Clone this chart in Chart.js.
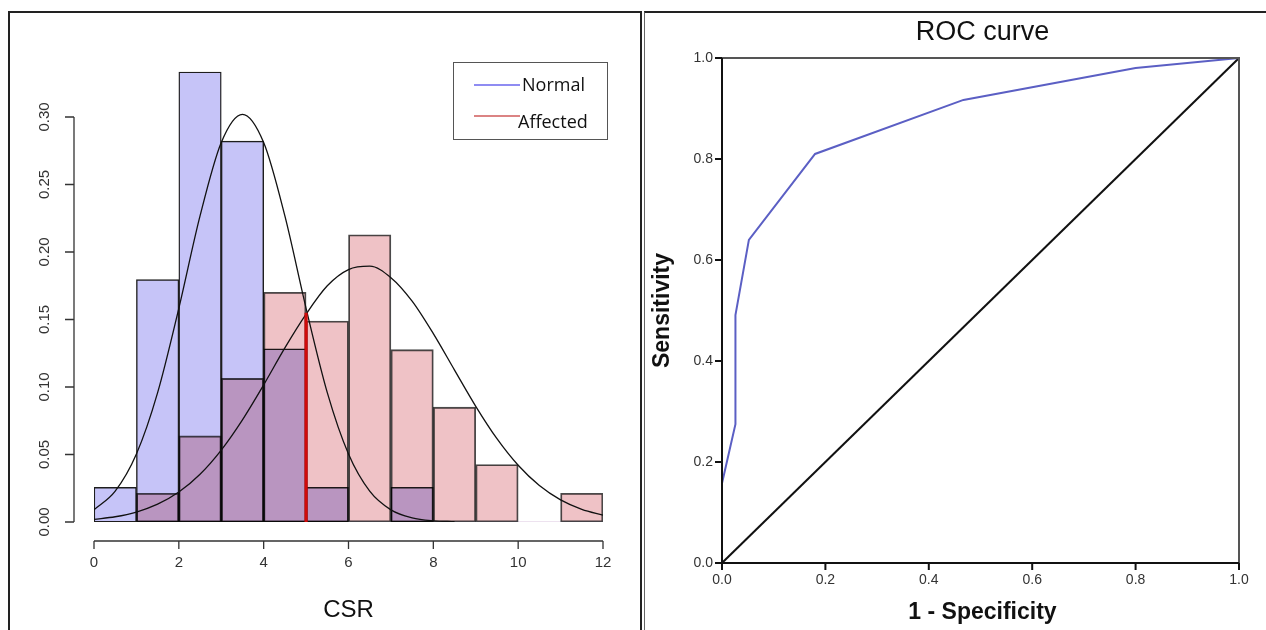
<!DOCTYPE html>
<html>
<head>
<meta charset="utf-8">
<title>CSR histogram and ROC curve</title>
<script src="https://cdn.jsdelivr.net/npm/chart.js@4.4.1/dist/chart.umd.min.js"></script>
<style>
  html, body { margin: 0; padding: 0; background: #fff; }
  body { width: 1266px; height: 630px; position: relative; overflow: hidden; }
  .frame { position: absolute; box-sizing: border-box; }
  #leftFrame { left: 8px; top: 11px; width: 634px; height: 640px;
               border-top: 2px solid #222; border-left: 2px solid #222; border-right: 2px solid #222; }
  #rightFrame { left: 644px; top: 11px; width: 640px; height: 640px;
                border-top: 2px solid #222; border-left: 1.5px solid #666; }
  canvas { position: absolute; }
  #histChart { left: 10px; top: 13px; }
  #rocChart { left: 646px; top: 14px; }
</style>
</head>
<body>
<div class="frame" id="leftFrame"></div>
<div class="frame" id="rightFrame"></div>
<canvas id="histChart" width="628" height="617"></canvas>
<canvas id="rocChart" width="620" height="616"></canvas>
<script>
// ---- Histogram data (density per CSR bin of width 1) ----
const binStarts = [0, 1, 2, 3, 4, 5, 6, 7, 8, 9, 10, 11];
const normalDensity   = [0.0256, 0.1795, 0.3333, 0.2821, 0.1282, 0.0256, 0, 0.0256, 0, 0, 0, 0];
const affectedDensity = [0, 0.0213, 0.0638, 0.1064, 0.1702, 0.1489, 0.2128, 0.1277, 0.0851, 0.0426, 0, 0.0213];

// fitted curves
const curveX = [0, 0.5, 1, 1.5, 2, 2.5, 3, 3.5, 4, 4.5, 5, 5.5, 6, 6.5, 7, 7.5, 8, 8.5, 9, 9.5, 10, 10.5, 11, 11.5, 12];
const normalCurve = [0.0090, 0.0228, 0.0503, 0.0958, 0.1583, 0.2267, 0.2811, 0.3020, 0.2811, 0.2267,
                     0.1583, 0.0958, 0.0503, 0.0228, 0.0090, 0.0031, 0.0009, 0.0002];
const affectedCurve = [0.0020, 0.0039, 0.0074, 0.0132, 0.0222, 0.0354, 0.0533, 0.0757, 0.1016, 0.1290,
                       0.1540, 0.1750, 0.1870, 0.1895, 0.1810, 0.1636, 0.1395, 0.1125, 0.0857, 0.0617,
                       0.0420, 0.0270, 0.0164, 0.0094, 0.0051];
const cutoffCSR = 5;
const cutoffHeight = 0.155;

const densityTicks = [0, 0.05, 0.10, 0.15, 0.20, 0.25, 0.30];
const csrTicks = [0, 2, 4, 6, 8, 10, 12];
const legendLabels = ['Normal', 'Affected'];
const legendColors = ['#6a66ee', '#cf5a5a'];

// ---- ROC data ----
const rocFPR = [0, 0, 0.026, 0.026, 0.052, 0.180, 0.467, 0.800, 1];
const rocTPR = [0, 0.158, 0.275, 0.491, 0.640, 0.810, 0.917, 0.980, 1];
const refFPR = [0, 1];
const refTPR = [0, 1];
const rocTicks = [0, 0.2, 0.4, 0.6, 0.8, 1.0];

const FONT = '"Liberation Sans", Arial, sans-serif';

// Affected bars are blended over the Normal ones (overlap turns purple)
const multiplyBlend = {
    id: 'multiplyBlend',
    beforeDatasetDraw(chart, args) {
        if (chart.data.datasets[args.index].blendMode) {
            chart.ctx.save();
            chart.ctx.globalCompositeOperation = chart.data.datasets[args.index].blendMode;
        }
    },
    afterDatasetDraw(chart, args) {
        if (chart.data.datasets[args.index].blendMode) chart.ctx.restore();
    }
};

// R-style detached axes + boxed legend
const rAxes = {
    id: 'rAxes',
    afterDraw(chart) {
        const { ctx, chartArea, scales: { x, y } } = chart;
        ctx.save();
        ctx.strokeStyle = '#333';
        ctx.lineWidth = 1.3;
        ctx.fillStyle = '#333';

        // y axis
        const ax = chartArea.left - 20;
        ctx.beginPath();
        ctx.moveTo(ax, y.getPixelForValue(densityTicks[0]));
        ctx.lineTo(ax, y.getPixelForValue(densityTicks[densityTicks.length - 1]));
        densityTicks.forEach(v => {
            const py = y.getPixelForValue(v);
            ctx.moveTo(ax, py);
            ctx.lineTo(ax - 9, py);
        });
        ctx.stroke();
        ctx.font = '15px ' + FONT;
        ctx.textAlign = 'center';
        ctx.textBaseline = 'middle';
        densityTicks.forEach(v => {
            ctx.save();
            ctx.translate(ax - 29, y.getPixelForValue(v));
            ctx.rotate(-Math.PI / 2);
            ctx.fillText(v.toFixed(2), 0, 0);
            ctx.restore();
        });

        // x axis
        const ay = chartArea.bottom + 19;
        ctx.beginPath();
        ctx.moveTo(x.getPixelForValue(csrTicks[0]), ay);
        ctx.lineTo(x.getPixelForValue(csrTicks[csrTicks.length - 1]), ay);
        csrTicks.forEach(v => {
            const px = x.getPixelForValue(v);
            ctx.moveTo(px, ay);
            ctx.lineTo(px, ay + 8);
        });
        ctx.stroke();
        csrTicks.forEach(v => ctx.fillText(String(v), x.getPixelForValue(v), ay + 22));

        ctx.fillStyle = '#111';
        ctx.font = '24px ' + FONT;
        ctx.fillText('CSR', (chartArea.left + chartArea.right) / 2, chartArea.bottom + 88);

        // legend box
        const bx = chartArea.right - 150, by = chartArea.top - 1;
        ctx.strokeStyle = '#555';
        ctx.lineWidth = 1;
        ctx.strokeRect(bx + 0.5, by + 0.5, 154, 77);
        ctx.font = '18px "Open Sans", "Noto Sans", sans-serif';
        ctx.textAlign = 'left';
        const rows = [{ ly: 23, tx: 69, ty: 24 }, { ly: 54, tx: 65, ty: 61 }];
        legendLabels.forEach((lab, i) => {
            ctx.strokeStyle = legendColors[i];
            ctx.lineWidth = 1.6;
            ctx.beginPath();
            ctx.moveTo(bx + 21, by + rows[i].ly);
            ctx.lineTo(bx + 67, by + rows[i].ly);
            ctx.stroke();
            ctx.fillStyle = '#111';
            ctx.fillText(lab, bx + rows[i].tx, by + rows[i].ty);
        });
        ctx.restore();
    }
};

// SPSS-style framed axes for the ROC plot
const spssAxes = {
    id: 'spssAxes',
    afterDraw(chart) {
        const { ctx, chartArea: ca, scales: { x, y } } = chart;
        ctx.save();
        ctx.lineWidth = 2;
        ctx.strokeStyle = '#555';
        ctx.beginPath();
        ctx.moveTo(ca.left, ca.top);
        ctx.lineTo(ca.right, ca.top);
        ctx.lineTo(ca.right, ca.bottom);
        ctx.stroke();
        ctx.strokeStyle = '#111';
        ctx.beginPath();
        ctx.moveTo(ca.left, ca.top);
        ctx.lineTo(ca.left, ca.bottom);
        ctx.lineTo(ca.right, ca.bottom);
        rocTicks.forEach(v => {
            const py = y.getPixelForValue(v);
            ctx.moveTo(ca.left - 7, py);
            ctx.lineTo(ca.left, py);
            const px = x.getPixelForValue(v);
            ctx.moveTo(px, ca.bottom);
            ctx.lineTo(px, ca.bottom + 7);
        });
        ctx.stroke();

        ctx.fillStyle = '#333';
        ctx.font = '14px ' + FONT;
        ctx.textBaseline = 'middle';
        ctx.textAlign = 'right';
        rocTicks.forEach(v => ctx.fillText(v.toFixed(1), ca.left - 9, y.getPixelForValue(v)));
        ctx.textAlign = 'center';
        rocTicks.forEach(v => ctx.fillText(v.toFixed(1), x.getPixelForValue(v), ca.bottom + 17));

        ctx.fillStyle = '#111';
        ctx.font = '27px ' + FONT;
        ctx.fillText('ROC curve', (ca.left + ca.right) / 2 + 2, ca.top - 25);
        ctx.font = 'bold 23px ' + FONT;
        ctx.fillText('1 - Specificity', (ca.left + ca.right) / 2 + 2, ca.bottom + 50);
        ctx.save();
        ctx.translate(ca.left - 59, (ca.top + ca.bottom) / 2);
        ctx.rotate(-Math.PI / 2);
        ctx.fillText('Sensitivity', 0, 0);
        ctx.restore();
        ctx.restore();
    }
};

function toPoints(xs, ys) {
    return ys.map((v, i) => ({ x: xs[i], y: v }));
}

// zero-height bins get no outline
const normalBorder = c => (c.raw && c.raw.y > 0 ? 1.4 : 0);
const affectedBorder = c => (c.raw && c.raw.y > 0 ? 1.2 : 0);

// Histogram chart
const histCtx = document.getElementById('histChart').getContext('2d');
window.histChart = new Chart(histCtx, {
    type: 'bar',
    data: {
        datasets: [
            {
                type: 'line',
                label: 'cutoff',
                data: [{ x: cutoffCSR, y: 0 }, { x: cutoffCSR, y: cutoffHeight }],
                borderColor: '#d10a0a',
                borderWidth: 3.2,
                pointRadius: 0,
                order: 0
            },
            {
                type: 'line',
                label: 'Normal fit',
                data: toPoints(curveX, normalCurve),
                borderColor: '#111',
                borderWidth: 1.3,
                pointRadius: 0,
                cubicInterpolationMode: 'monotone',
                order: 1
            },
            {
                type: 'line',
                label: 'Affected fit',
                data: toPoints(curveX, affectedCurve),
                borderColor: '#111',
                borderWidth: 1.3,
                pointRadius: 0,
                cubicInterpolationMode: 'monotone',
                order: 1
            },
            {
                label: 'Affected',
                data: affectedDensity.map((v, i) => ({ x: binStarts[i] + 0.5, y: v })),
                backgroundColor: '#efc2c6',
                borderColor: '#4a4a4a',
                borderWidth: affectedBorder,
                borderSkipped: false,
                barPercentage: 1,
                categoryPercentage: 1,
                grouped: false,
                blendMode: 'multiply',
                order: 2
            },
            {
                label: 'Normal',
                data: normalDensity.map((v, i) => ({ x: binStarts[i] + 0.5, y: v })),
                backgroundColor: '#c6c4f8',
                borderColor: '#1e1e1e',
                borderWidth: normalBorder,
                borderSkipped: false,
                barPercentage: 1,
                categoryPercentage: 1,
                grouped: false,
                order: 3
            }
        ]
    },
    options: {
        responsive: false,
        animation: false,
        layout: { padding: { left: 84, right: 35, top: 50, bottom: 108 } },
        plugins: { legend: { display: false }, tooltip: { enabled: false } },
        scales: {
            x: { type: 'linear', min: 0, max: 12, offset: false, display: false },
            y: { type: 'linear', min: 0, max: 0.34, display: false }
        },
        elements: { line: { clip: false } }
    },
    plugins: [multiplyBlend, rAxes]
});

// ROC chart
const rocCtx = document.getElementById('rocChart').getContext('2d');
window.rocChart = new Chart(rocCtx, {
    type: 'line',
    data: {
        datasets: [
            {
                label: 'ROC',
                data: toPoints(rocFPR, rocTPR),
                borderColor: '#5b5fc4',
                borderWidth: 2,
                pointRadius: 0,
                tension: 0
            },
            {
                label: 'Reference',
                data: toPoints(refFPR, refTPR),
                borderColor: '#111',
                borderWidth: 2,
                pointRadius: 0,
                tension: 0
            }
        ]
    },
    options: {
        responsive: false,
        animation: false,
        layout: { padding: { left: 76, right: 27, top: 44, bottom: 67 } },
        plugins: { legend: { display: false }, tooltip: { enabled: false } },
        scales: {
            x: { type: 'linear', min: 0, max: 1, display: false },
            y: { type: 'linear', min: 0, max: 1, display: false }
        }
    },
    plugins: [spssAxes]
});
</script>
</body>
</html>
